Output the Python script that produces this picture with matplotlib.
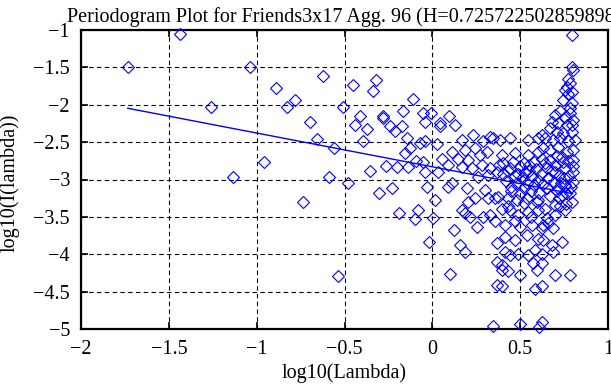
import matplotlib
matplotlib.use("Agg")
import matplotlib.pyplot as plt

title = "Periodogram Plot for Friends3x17 Agg. 96 (H=0.725722502859898)"
xlabel = "log10(Lambda)"
ylabel = "log10(I(lambda))"

xticks = [-2, -1.5, -1, -0.5, 0, 0.5, 1]
xticklabels = ["\u22122", "\u22121.5", "\u22121", "\u22120.5", "0", "0.5", "1"]
yticks = [-5, -4.5, -4, -3.5, -3, -2.5, -2, -1.5, -1]
yticklabels = ["\u22125", "\u22124.5", "\u22124", "\u22123.5", "\u22123", "\u22122.5", "\u22122", "\u22121.5", "\u22121"]

# periodogram points (log10 lambda, log10 I(lambda))
pts_left_x = [-1.734, -1.435, -1.26, -1.137, -1.038, -0.958, -0.89, -0.83, -0.784, -0.734,
              -0.696, -0.658, -0.622, -0.59, -0.562, -0.535, -0.51]
pts_left_y = [-1.49, -1.06, -2.03, -2.96, -1.49, -2.76, -1.77, -2.03, -1.94, -3.30,
              -2.23, -2.46, -1.61, -2.96, -2.58, -4.29, -2.03]

pts_mid_x = [-0.478, -0.453, -0.44, -0.412, -0.393, -0.374, -0.355, -0.336, -0.321, -0.302,
             -0.283, -0.279, -0.264, -0.241, -0.228, -0.213, -0.203, -0.188, -0.174, -0.165,
             -0.156, -0.142, -0.137, -0.127, -0.112, -0.099, -0.093, -0.08, -0.07, -0.051,
             -0.051, -0.042, -0.042, -0.042, -0.032, -0.021, 0.006,
             -0.008, 0.044, 0.044, 0.095, 0.129, 0.025, 0.167, 0.233, 0.29, 0.347,
             0.11, 0.186, 0.243, 0.053, 0.148, 0.205, 0.271, 0.309, 0.034, 0.091,
             0.167, 0.224, 0.281, 0.328, 0.366, 0.262, 0.319, 0.328,
             0.015, 0.091, 0.11, 0.196, 0.243, 0.205, 0.3, 0.319, 0.357, 0.167,
             0.186, 0.214, 0.29, 0.328, 0.357, 0.125, 0.158, 0.186, 0.252, 0.366,
             0.366, 0.366, 0.10]
pts_mid_y = [-3.05, -1.74, -2.27, -2.15, -2.49, -2.32, -2.88, -1.81, -1.67, -3.18,
             -2.15, -2.18, -2.82, -2.29, -3.11, -2.35, -2.83, -3.45, -2.29, -2.08,
             -2.65, -2.45, -2.83, -2.58, -1.92, -3.53, -2.75, -3.41, -2.51, -2.11,
             -2.76, -2.90, -2.23, -2.49, -3.10, -3.83, -3.51,
             -2.11, -2.25, -2.29, -2.15, -2.27, -2.52, -2.47, -2.40, -2.49, -2.45,
             -2.63, -2.61, -2.58, -2.72, -2.72, -2.74, -2.67, -2.63, -2.90, -2.81,
             -2.83, -2.85, -2.81, -2.85, -2.90, -2.96, -2.94, -2.43,
             -3.27, -3.10, -3.05, -3.12, -3.25, -3.30, -3.14, -3.25, -3.25, -3.41,
             -3.45, -3.50, -3.50, -3.47, -3.56, -3.68, -3.88, -3.97, -3.63, -3.85,
             -4.10, -4.41, -4.27]

pts_right_x = [0.347, 0.499, 0.609, 0.395, 0.584, 0.395, 0.395, 0.433, 0.499, 0.575,
               0.594, 0.414, 0.442, 0.489, 0.546, 0.584, 0.622, 0.414, 0.471, 0.537,
               0.603, 0.414, 0.499, 0.565, 0.622, 0.395, 0.442, 0.489, 0.546, 0.603,
               0.375, 0.433, 0.48, 0.537, 0.594,
               0.385, 0.442, 0.546, 0.603, 0.622, 0.395, 0.471, 0.546, 0.603,
               0.797, 0.797, 0.802, 0.774, 0.784, 0.765, 0.793, 0.774, 0.755,
               0.746, 0.793, 0.784, 0.727, 0.698, 0.755, 0.784, 0.802,
               0.679, 0.717, 0.765, 0.793, 0.67, 0.708, 0.746, 0.793,
               0.641, 0.689, 0.727, 0.774, 0.812, 0.632, 0.67, 0.717, 0.765, 0.802,
               0.622, 0.67, 0.708, 0.746, 0.802, 0.651, 0.698, 0.755, 0.802,
               0.793, 0.755, 0.727, 0.698, 0.689, 0.736, 0.679, 0.689, 0.698, 0.784,
               0.622, 0.622, 0.632, 0.622, 0.651, 0.632, 0.717, 0.755, 0.802, 0.784, 0.736]
pts_right_y = [-4.96, -4.93, -4.97, -4.43, -4.46, -4.14, -4.21, -4.23, -4.28, -4.12,
               -4.21, -3.97, -4.01, -3.99, -4.01, -3.94, -3.99, -3.77, -3.81, -3.74,
               -3.79, -3.61, -3.63, -3.61, -3.65, -3.39, -3.41, -3.47, -3.43, -3.41,
               -3.23, -3.25, -3.27, -3.25, -3.30,
               -2.47, -2.45, -2.47, -2.45, -2.40, -2.67, -2.65, -2.67, -2.63,
               -1.07, -1.49, -1.54, -1.65, -1.71, -1.76, -1.83, -1.85, -1.80,
               -1.94, -1.98, -2.05, -2.09, -2.14, -2.16, -2.11, -2.20,
               -2.23, -2.25, -2.27, -2.27, -2.31, -2.36, -2.38, -2.36,
               -2.45, -2.47, -2.45, -2.49, -2.47, -2.58, -2.61, -2.56, -2.63, -2.61,
               -2.72, -2.74, -2.69, -2.76, -2.74, -2.85, -2.90, -2.85, -2.90,
               -3.30, -3.41, -3.36, -3.34, -3.65, -3.83, -3.88, -3.97, -4.28, -4.28,
               -4.43, -4.90, -3.81, -4.12, -3.52, -3.61, -3.12, -3.07, -3.03, -3.18, -3.21]

pts_dense_x = [0.38, 0.40, 0.42, 0.44, 0.45, 0.47, 0.48, 0.50, 0.51, 0.52,
               0.53, 0.54, 0.55, 0.56, 0.57, 0.58, 0.59, 0.60, 0.61, 0.62,
               0.63, 0.64, 0.65, 0.66, 0.67, 0.68, 0.69, 0.70, 0.71, 0.72,
               0.73, 0.74, 0.75, 0.76, 0.77, 0.78, 0.79, 0.80,
               0.43, 0.47, 0.52, 0.56, 0.60, 0.64, 0.66, 0.70, 0.72, 0.76, 0.45, 0.50,
               0.40, 0.43, 0.46, 0.49, 0.52, 0.55, 0.58]
pts_dense_y = [-2.80, -2.92, -3.02, -2.85, -3.10, -2.95, -3.05, -2.82, -2.98, -3.12,
               -2.90, -3.05, -2.80, -3.15, -2.95, -3.08, -2.86, -3.00, -3.18, -2.92,
               -3.06, -2.78, -3.12, -2.98, -3.22, -2.88, -3.03, -2.80, -3.15, -2.95,
               -3.05, -2.70, -2.98, -3.18, -2.75, -2.95, -3.10, -2.82,
               -3.35, -3.55, -3.32, -3.50, -3.28, -3.40, -3.58, -3.47, -3.25, -3.33, -3.15, -3.20,
               -2.78, -2.88, -2.76, -2.92, -2.78, -2.88, -2.76]

# least-squares fit line endpoints
fit_x = [-1.734, 0.798]
fit_y = [-2.047, -3.19]

plt.rcParams['font.family'] = ['Liberation Serif', 'DejaVu Serif']

fig = plt.figure(figsize=(6.11, 3.85), dpi=100)
ax = fig.add_axes([81 / 611, 56 / 385, 527 / 611, 299 / 385])

blue = '#0000ff'
for xs, ys in [(pts_left_x, pts_left_y), (pts_mid_x, pts_mid_y),
               (pts_right_x, pts_right_y), (pts_dense_x, pts_dense_y)]:
    ax.plot(xs, ys, linestyle='none', marker='D', markersize=6,
            markerfacecolor='none', markeredgecolor=blue, markeredgewidth=0.8,
            clip_on=False, zorder=3)

ax.plot(fit_x, fit_y, color=blue, linewidth=1.0, zorder=4)

fs = 14.5
ax.set_xlim(-2, 1)
ax.set_ylim(-5, -1)
ax.set_xticks(xticks)
ax.set_xticklabels(xticklabels)
ax.set_yticks(yticks)
ax.set_yticklabels(yticklabels)
ax.tick_params(direction='in', length=5, width=1.2, labelsize=fs,
               top=True, right=True)
ax.tick_params(axis='x', pad=8)
ax.tick_params(axis='y', pad=8)
ax.grid(True, color='black', linestyle=(0, (4, 3)), linewidth=0.8)
ax.set_axisbelow(True)
for s in ax.spines.values():
    s.set_linewidth(1.6)

ax.set_xlabel(xlabel, fontsize=fs, labelpad=3)
ax.set_ylabel(ylabel, fontsize=fs)
ax.yaxis.set_label_coords(-0.117, 0.49)
ax.set_title(title, fontsize=fs, pad=6)

fig.savefig('out.png', dpi=100)
